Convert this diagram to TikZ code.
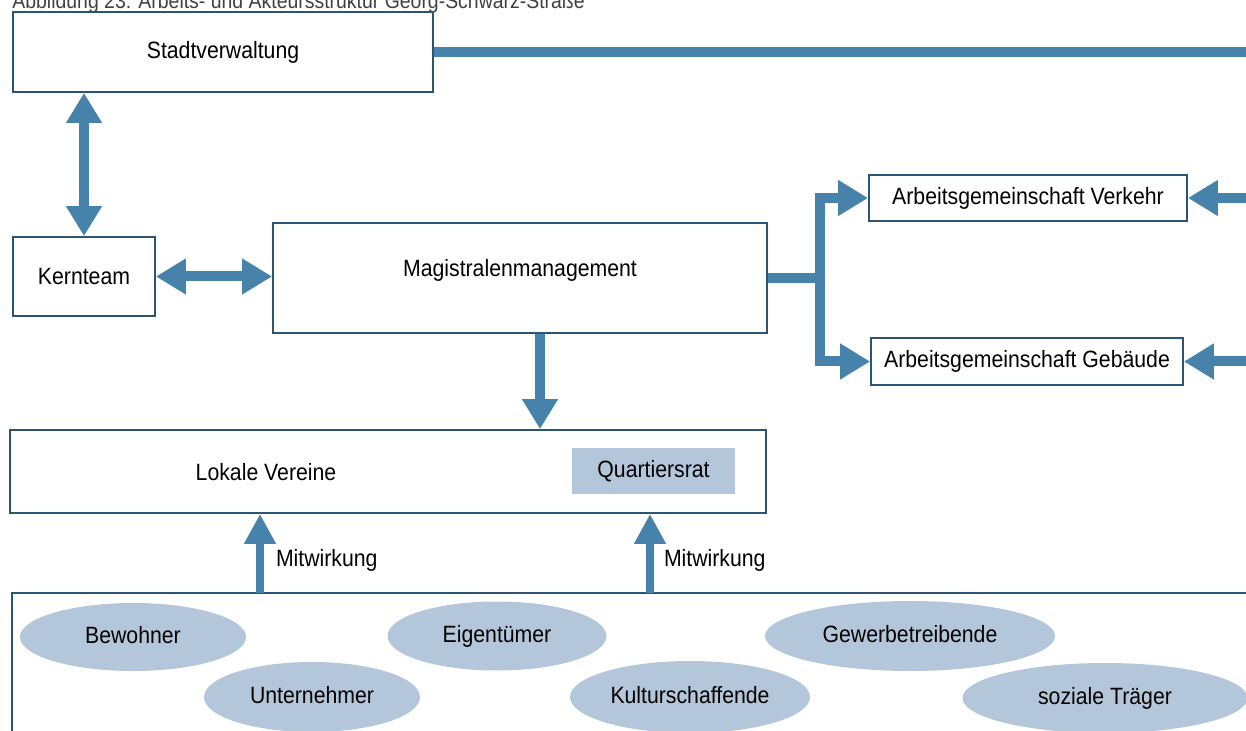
\documentclass[tikz,border=0pt]{standalone}
\usepackage{fontspec}
\setmainfont{Liberation Sans}[FakeStretch=0.9]
\usetikzlibrary{arrows.meta, shapes.geometric}
\definecolor{arrowblue}{RGB}{70,130,170}
\definecolor{boxline}{RGB}{45,85,115}
\definecolor{ovalfill}{RGB}{180,199,218}
\tikzstyle{line} = [draw=arrowblue, line width=5pt, -{Triangle[width=17pt,length=15pt]}]
\tikzstyle{dline} = [line, {Triangle[width=17pt,length=15pt]}-{Triangle[width=17pt,length=15pt]}]
\tikzstyle{thinline} = [draw=arrowblue, line width=4pt, -{Triangle[width=15pt,length=15pt]}]
\tikzstyle{bar} = [draw=arrowblue, line width=5pt]
\tikzstyle{box} = [rectangle, draw=boxline, line width=0.9pt, fill=white, inner sep=0pt, font=\fontsize{11.8}{13}\selectfont]
\tikzstyle{lbl} = [inner sep=0pt, font=\fontsize{11.8}{13}\selectfont]
\tikzstyle{oval} = [ellipse, fill=ovalfill, inner sep=0pt, text height=8.5pt, text depth=2.5pt, font=\fontsize{11.8}{13}\selectfont]

\begin{document}
\begin{tikzpicture}[x=0.5pt, y=-0.5pt]
	\useasboundingbox (0,0) rectangle (1246,731);
	\node [anchor=base west, inner sep=0pt, text=black!75, font=\fontsize{10.8}{12}\selectfont] (caption) at (12,9) {Abbildung 23: Arbeits- und Akteursstruktur Georg-Schwarz-Straße};
	
	\node [box, minimum width=210pt, minimum height=40pt] (stadt) at (223,52) {Stadtverwaltung};
	\node [box, minimum width=71pt, minimum height=39.5pt] (kern) at (84,276.5) {Kernteam};
	\node [box, minimum width=247pt, minimum height=55pt] (mag) at (520,278) {};
	\node [lbl] (magtxt) at (520,270) {Magistralenmanagement};
	\node [box, minimum width=159pt, minimum height=23pt] (agv) at (1028,198) {Arbeitsgemeinschaft Verkehr};
	\node [box, minimum width=156pt, minimum height=23.5pt] (agg) at (1027,361.5) {Arbeitsgemeinschaft Gebäude};
	
	\path [dline] (kern.north |- stadt.south) to (kern.north);
	\path [dline] (kern.east) to (kern.east -| mag.west);
	
	% Verwaltung an die Arbeitsgemeinschaften
	\coordinate (rail) at (1251,52);
	\path [bar] (stadt.east) -- (rail) -- (rail |- agg.east);
	\path [line] (rail |- agv.east) to (agv.east);
	\path [line] (rail |- agg.east) to (agg.east);
	
	\coordinate (fork) at (820,278);
	\path [bar] (mag.east) -- (fork);
	\path [line] (fork) |- (agv.west);
	\path [line] (fork) |- (agg.west);
	
	\node [box, minimum width=378pt, minimum height=41.5pt] (lok) at (388,471.5) {};
	\node [lbl] (loktxt) at (266,472) {Lokale Vereine};
	\node [rectangle, fill=ovalfill, minimum width=81.5pt, minimum height=23pt, inner sep=0pt, font=\fontsize{11.8}{13}\selectfont] (quart) at (653.5,471) {Quartiersrat};
	\path [line] ([xshift=10pt]mag.south) to ([xshift=10pt]mag.south |- lok.north);
	
	% Akteure
	\node [box, minimum width=621pt, minimum height=76pt] (actors) at (633,669) {};
	\coordinate (mw1) at (260,593);
	\coordinate (mw2) at (650,593);
	\path [thinline] (mw1) to node [lbl, pos=0.41, anchor=west, xshift=6pt] (mwtxt1) {Mitwirkung} (mw1 |- lok.south);
	\path [thinline] (mw2) to node [lbl, pos=0.41, anchor=west, xshift=5pt] (mwtxt2) {Mitwirkung} (mw2 |- lok.south);
	
	\node [oval, minimum width=113pt, minimum height=34pt] (bew) at (133,637) {Bewohner};
	\node [oval, minimum width=108pt, minimum height=35pt] (unt) at (312,697) {Unternehmer};
	\node [oval, minimum width=109.5pt, minimum height=34.5pt] (eig) at (497,636) {Eigentümer};
	\node [oval, minimum width=120pt, minimum height=36pt] (kult) at (690,697) {Kulturschaffende};
	\node [oval, minimum width=145pt, minimum height=35pt] (gew) at (910,636) {Gewerbetreibende};
	\node [oval, minimum width=142.5pt, minimum height=35pt] (soz) at (1105,698) {soziale Träger};
\end{tikzpicture}
\end{document}
